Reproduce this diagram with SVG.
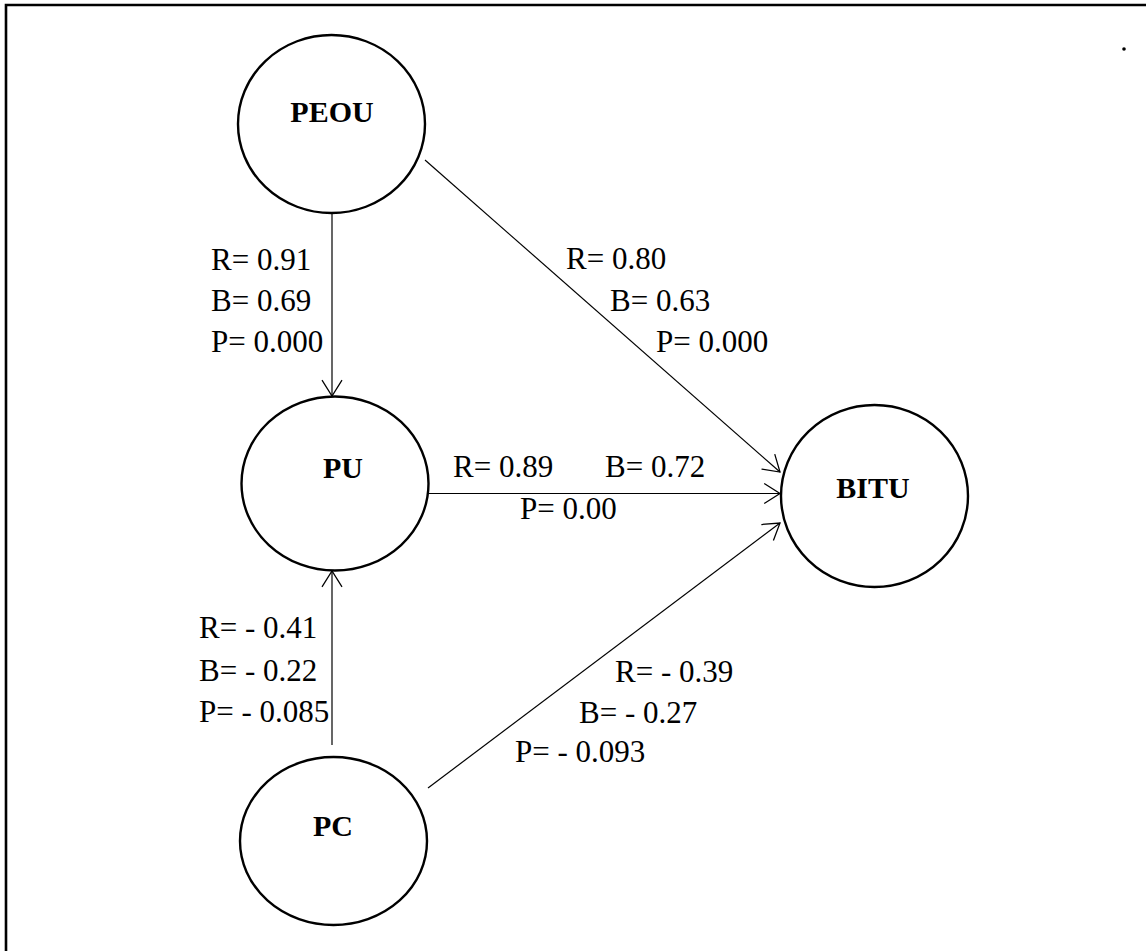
<svg xmlns="http://www.w3.org/2000/svg" width="1146" height="951" viewBox="0 0 1146 951">
  <style>
    .node { fill: #ffffff; stroke: #000000; stroke-width: 2.4; }
    .nlabel { font-family: "Liberation Serif", "Times New Roman", serif; font-weight: bold; font-size: 30px; fill: #000000; text-anchor: middle; }
    .elabel { font-family: "Liberation Serif", "Times New Roman", serif; font-size: 31px; fill: #000000; }
    .edge { stroke: #000000; stroke-width: 1.2; fill: none; marker-end: url(#arrow); }
  </style>
  <defs>
    <marker id="arrow" markerUnits="userSpaceOnUse" markerWidth="20" markerHeight="24" viewBox="-17 -11 19 22" refX="0" refY="0" orient="auto">
      <path d="M-15,-9.5 L0,0 L-15,9.5" fill="none" stroke="#000000" stroke-width="1.2"/>
    </marker>
  </defs>

  <rect width="1146" height="951" fill="#ffffff"/>

  <!-- frame: top and left rules -->
  <path d="M6,951 L6,5 L1146,5" fill="none" stroke="#000000" stroke-width="2.6"/>
  <circle cx="1124" cy="49" r="1.8" fill="#000000"/>

  <!-- connectors -->
  <g id="connectors">
    <line class="edge" x1="332" y1="213" x2="332" y2="396"/>
    <line class="edge" x1="425" y1="160" x2="780" y2="472"/>
    <line class="edge" x1="429" y1="493.5" x2="780" y2="493.5"/>
    <line class="edge" x1="332" y1="745" x2="332" y2="571"/>
    <line class="edge" x1="428" y1="788" x2="780" y2="523"/>
  </g>

  <g id="edge-labels">
    <text class="elabel" x="211" y="270">R= 0.91</text>
    <text class="elabel" x="211" y="311">B= 0.69</text>
    <text class="elabel" x="211" y="352">P= 0.000</text>

    <text class="elabel" x="566" y="269">R= 0.80</text>
    <text class="elabel" x="610" y="310.5">B= 0.63</text>
    <text class="elabel" x="656" y="352">P= 0.000</text>

    <text class="elabel" x="453" y="477">R= 0.89</text>
    <text class="elabel" x="605" y="477">B= 0.72</text>
    <text class="elabel" x="520" y="519">P= 0.00</text>

    <text class="elabel" x="199" y="638">R= - 0.41</text>
    <text class="elabel" x="199" y="681">B= - 0.22</text>
    <text class="elabel" x="199" y="722">P= - 0.085</text>

    <text class="elabel" x="615" y="682">R= - 0.39</text>
    <text class="elabel" x="579" y="723">B= - 0.27</text>
    <text class="elabel" x="515" y="762">P= - 0.093</text>
  </g>

  <g id="PEOU">
    <ellipse class="node" cx="331.5" cy="124" rx="93.5" ry="89"/>
    <text class="nlabel" x="332" y="122">PEOU</text>
  </g>
  <g id="PU">
    <ellipse class="node" cx="335" cy="483.5" rx="93.5" ry="87"/>
    <text class="nlabel" x="343" y="478">PU</text>
  </g>
  <g id="BITU">
    <ellipse class="node" cx="874.5" cy="496" rx="93.5" ry="91"/>
    <text class="nlabel" x="873" y="498">BITU</text>
  </g>
  <g id="PC">
    <ellipse class="node" cx="333.5" cy="841" rx="93.5" ry="84"/>
    <text class="nlabel" x="333" y="836">PC</text>
  </g>
</svg>
